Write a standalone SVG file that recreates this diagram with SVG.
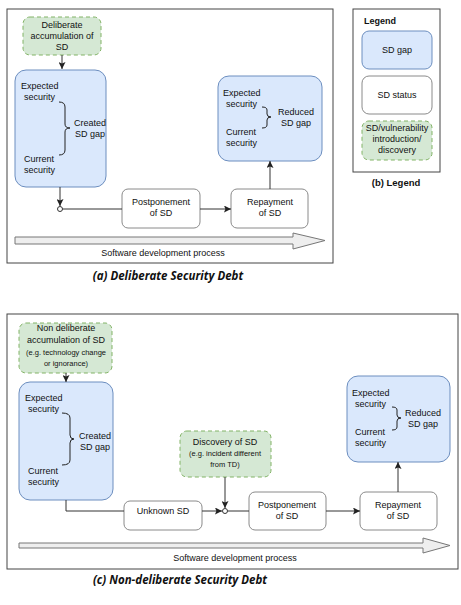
<svg xmlns="http://www.w3.org/2000/svg" width="461" height="605" viewBox="0 0 461 605">
<defs>
<style>
text{font-family:"Liberation Sans",Arial,sans-serif;font-size:9px;fill:#111}
.c{text-anchor:middle}
.s{font-size:7.5px}
.frame{fill:#fff;stroke:#444;stroke-width:1}
.gap{fill:#dae8fc;stroke:#6c8ebf;stroke-width:1}
.st{fill:#fff;stroke:#8a8a8a;stroke-width:1}
.intro{fill:#d5e8d4;stroke:#82b366;stroke-width:1;stroke-dasharray:4 3}
.ln{fill:none;stroke:#333;stroke-width:1}
.br{fill:none;stroke:#222;stroke-width:1}
.cap{font-family:"Open Sans","Noto Sans",sans-serif;font-style:italic;font-weight:bold;font-size:11.5px;text-anchor:middle}
.big{fill:#eeeeee;stroke:#777;stroke-width:1}
</style>
<marker id="ah" viewBox="0 0 10 10" refX="10" refY="5" markerWidth="7" markerHeight="7" markerUnits="userSpaceOnUse" orient="auto">
<path d="M0,0 L10,5 L0,10 L2,5 Z" fill="#222"/>
</marker>
</defs>
<rect width="461" height="605" fill="#fff"/>

<!-- Panel (a) -->
<rect id="frameA" class="frame" x="7" y="9" width="326" height="254"/>
<g id="a-deliberate">
<rect class="intro" x="23" y="17" width="78" height="38" rx="7"/>
<text class="c" x="62" y="28">Deliberate</text>
<text class="c" x="62" y="39">accumulation of</text>
<text class="c" x="62" y="50">SD</text>
</g>
<g id="a-created">
<rect class="gap" x="15" y="70" width="91" height="117" rx="11"/>
<text x="21" y="89">Expected</text>
<text x="24" y="100">security</text>
<text class="c" x="90" y="126">Created</text>
<text class="c" x="90" y="137">SD gap</text>
<text x="24" y="162">Current</text>
<text x="24" y="173">security</text>
<path class="br" d="M59,102 Q65,102 65,107 L65,124 Q65,128 70,128 Q65,128 65,132 L65,150 Q65,155 59,155"/>
</g>
<g id="a-postpone">
<rect class="st" x="122" y="189" width="78" height="39" rx="6"/>
<text class="c" x="161" y="205">Postponement</text>
<text class="c" x="161" y="216">of SD</text>
</g>
<g id="a-repay">
<rect class="st" x="231" y="189" width="77" height="39" rx="6"/>
<text class="c" x="270" y="205">Repayment</text>
<text class="c" x="270" y="216">of SD</text>
</g>
<g id="a-reduced">
<rect class="gap" x="218" y="76" width="104" height="85" rx="11"/>
<text x="223" y="96">Expected</text>
<text x="226" y="107">security</text>
<text x="226" y="135">Current</text>
<text x="226" y="146">security</text>
<text class="c" x="296" y="115">Reduced</text>
<text class="c" x="296" y="126">SD gap</text>
<path class="br" d="M262,107 Q267,107 267,110 L267,114 Q267,117 271,117 Q267,117 267,120 L267,125 Q267,128 262,128"/>
</g>
<g id="a-process">
<path class="big" d="M15,237 L293,237 L293,233 L325,240.5 L293,249 L293,244 L15,244 Z"/>
<text class="c" x="163" y="256">Software development process</text>
</g>
<g id="a-connectors">
<line class="ln" x1="62" y1="55" x2="62" y2="69" marker-end="url(#ah)"/>
<line class="ln" x1="60" y1="187" x2="60" y2="206" marker-end="url(#ah)"/>
<line class="ln" x1="62.5" y1="209" x2="122" y2="209"/>
<line class="ln" x1="200" y1="209" x2="231" y2="209" marker-end="url(#ah)"/>
<line class="ln" x1="270" y1="189" x2="270" y2="161" marker-end="url(#ah)"/>
<circle cx="60" cy="209" r="2.5" fill="#fff" stroke="#333" stroke-width="1"/>
</g>
<text class="cap" x="168" y="280">(a) Deliberate Security Debt</text>

<!-- Legend -->
<rect id="frameB" class="frame" x="353" y="9" width="87" height="163"/>
<text x="364" y="24" style="font-weight:bold">Legend</text>
<g id="leg-gap">
<rect class="gap" x="362" y="31" width="70" height="38" rx="7"/>
<text class="c" x="397" y="53">SD gap</text>
</g>
<g id="leg-status">
<rect class="st" x="362" y="76" width="70" height="38" rx="7"/>
<text class="c" x="397" y="98">SD status</text>
</g>
<g id="leg-intro">
<rect class="intro" x="362" y="121" width="70" height="39" rx="7"/>
<text class="c" x="397" y="131">SD/vulnerability</text>
<text class="c" x="397" y="142">introduction/</text>
<text class="c" x="397" y="153">discovery</text>
</g>
<text class="c" x="396" y="186" style="font-weight:bold;font-size:9.5px">(b) Legend</text>

<!-- Panel (c) -->
<rect id="frameC" class="frame" x="7" y="314" width="451" height="255"/>
<g id="c-nondeliberate">
<rect class="intro" x="19" y="323" width="93" height="50" rx="7"/>
<text class="c" x="66" y="331">Non deliberate</text>
<text class="c" x="66" y="343">accumulation of SD</text>
<text class="c s" x="66" y="354.5">(e.g. technology change</text>
<text class="c s" x="66" y="365.5">or ignorance)</text>
</g>
<g id="c-created">
<rect class="gap" x="19" y="382" width="94" height="118" rx="11"/>
<text x="25" y="401">Expected</text>
<text x="28" y="412">security</text>
<text class="c" x="95" y="439">Created</text>
<text class="c" x="95" y="450">SD gap</text>
<text x="28" y="474">Current</text>
<text x="28" y="485">security</text>
<path class="br" d="M62,413 Q70,413 70,418 L70,435 Q70,439 74,439 Q70,439 70,443 L70,460 Q70,465 62,465"/>
</g>
<g id="c-unknown">
<rect class="st" x="124" y="501" width="78" height="29" rx="6"/>
<text class="c" x="163" y="514">Unknown SD</text>
</g>
<g id="c-discovery">
<rect class="intro" x="180" y="431" width="91" height="46" rx="7"/>
<text class="c" x="225" y="445">Discovery of SD</text>
<text class="c s" x="225" y="456">(e.g. incident different</text>
<text class="c s" x="225" y="467">from TD)</text>
</g>
<g id="c-postpone">
<rect class="st" x="249" y="492" width="77" height="38" rx="6"/>
<text class="c" x="287" y="508">Postponement</text>
<text class="c" x="287" y="519">of SD</text>
</g>
<g id="c-repay">
<rect class="st" x="360" y="492" width="77" height="38" rx="6"/>
<text class="c" x="398" y="508">Repayment</text>
<text class="c" x="398" y="519">of SD</text>
</g>
<g id="c-reduced">
<rect class="gap" x="347" y="376" width="103" height="86" rx="11"/>
<text x="352" y="396">Expected</text>
<text x="355" y="407">security</text>
<text x="355" y="435">Current</text>
<text x="355" y="446">security</text>
<text class="c" x="423" y="416">Reduced</text>
<text class="c" x="423" y="427">SD gap</text>
<path class="br" d="M392,407 Q397,407 397,410 L397,415 Q397,418 401,418 Q397,418 397,421 L397,427 Q397,430 392,430"/>
</g>
<g id="c-process">
<path class="big" d="M19,543 L423,543 L423,538 L450,545.5 L423,553 L423,548 L19,548 Z"/>
<text class="c" x="235" y="561">Software development process</text>
</g>
<g id="c-connectors">
<line class="ln" x1="66" y1="373" x2="66" y2="382" marker-end="url(#ah)"/>
<polyline class="ln" points="66,500 66,511 124,511"/>
<line class="ln" x1="202" y1="511" x2="222" y2="511" marker-end="url(#ah)"/>
<line class="ln" x1="225" y1="477" x2="225" y2="508" marker-end="url(#ah)"/>
<line class="ln" x1="227.5" y1="511" x2="249" y2="511"/>
<line class="ln" x1="326" y1="511" x2="360" y2="511" marker-end="url(#ah)"/>
<line class="ln" x1="398" y1="492" x2="398" y2="462" marker-end="url(#ah)"/>
<circle cx="225" cy="511" r="2.5" fill="#fff" stroke="#333" stroke-width="1"/>
</g>
<text class="cap" x="180" y="584">(c) Non-deliberate Security Debt</text>
</svg>
